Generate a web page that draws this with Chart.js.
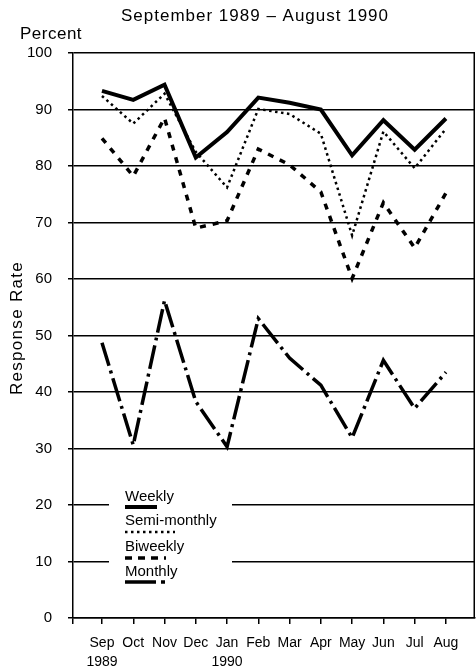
<!DOCTYPE html>
<html>
<head>
<meta charset="utf-8">
<script src="https://cdn.jsdelivr.net/npm/chart.js@4.4.1/dist/chart.umd.min.js"></script>
<style>
  html, body { margin: 0; padding: 0; background: #fff; }
  #wrap { width: 476px; height: 671px; }
</style>
</head>
<body>
<div id="wrap"><canvas id="c" width="476" height="671"></canvas></div>
<script>
const months = ['Sep','Oct','Nov','Dec','Jan','Feb','Mar','Apr','May','Jun','Jul','Aug'];
const years  = ['1989','','','','1990','','','','','','',''];
const yTicks = [0,10,20,30,40,50,60,70,80,90,100];

const weekly      = [93.3, 91.7, 94.4, 81.5, 86.0, 92.1, 91.2, 90.0, 81.9, 88.1, 82.9, 88.4];
const semiMonthly = [92.4, 87.5, 92.8, 82.5, 76.2, 90.1, 89.2, 85.7, 67.7, 86.1, 79.6, 86.6];
const biweekly    = [84.9, 78.2, 88.5, 69.0, 70.3, 83.0, 80.2, 75.4, 60.1, 73.5, 65.5, 75.2];
const monthly     = [48.7, 30.6, 56.2, 38.3, 30.3, 53.0, 46.0, 41.2, 31.9, 45.6, 37.1, 43.5];

const titleText = 'September 1989 \u2013 August 1990';
const yUnitText = 'Percent';
const yAxisText = 'Response Rate';

const FONT = "'Liberation Sans', Arial, Helvetica, sans-serif";
Chart.defaults.font.family = FONT;
Chart.defaults.color = '#000';

const toPts = arr => arr.map((v, i) => ({x: i, y: v}));

const styles = [
  {dash: [], width: 4, sampleEnd: 157},
  {dash: [2.5, 3.5], width: 2.5, sampleEnd: 175},
  {dash: [7, 6], width: 3.5, sampleEnd: 166},
  {dash: [31, 5, 4, 100], width: 3.5, sampleEnd: 168}
];
const lineDash = [[], [2.5, 3.5], [6, 7], [24, 5, 3, 5]];

const series = [
  {label: 'Weekly', data: weekly},
  {label: 'Semi-monthly', data: semiMonthly},
  {label: 'Biweekly', data: biweekly},
  {label: 'Monthly', data: monthly}
];

const decor = {
  id: 'decor',
  afterDatasetsDraw(chart) {
    const ctx = chart.ctx;
    const a = chart.chartArea;
    ctx.save();
    // right frame line
    ctx.strokeStyle = '#000';
    ctx.lineWidth = 1.5;
    ctx.beginPath();
    ctx.moveTo(a.right - 0.75, a.top);
    ctx.lineTo(a.right - 0.75, a.bottom);
    ctx.stroke();

    // legend box (white, interrupts grid lines)
    ctx.fillStyle = '#fff';
    ctx.fillRect(109, 486, 123, 104);
    const textY = [497, 521, 547, 572];
    const lineY = [507, 532, 558, 582];
    ctx.font = '15px ' + FONT;
    ctx.textBaseline = 'middle';
    ctx.textAlign = 'left';
    chart.data.datasets.forEach((ds, i) => {
      ctx.fillStyle = '#000';
      ctx.fillText(ds.label, 125, textY[i]);
      ctx.strokeStyle = '#000';
      ctx.lineWidth = styles[i].width;
      ctx.setLineDash(styles[i].dash);
      ctx.lineCap = 'butt';
      ctx.beginPath();
      ctx.moveTo(125, lineY[i]);
      ctx.lineTo(styles[i].sampleEnd, lineY[i]);
      ctx.stroke();
    });
    ctx.setLineDash([]);

    // titles
    ctx.fillStyle = '#000';
    ctx.font = '17px ' + FONT;
    ctx.letterSpacing = '1px';
    ctx.textAlign = 'center';
    ctx.textBaseline = 'middle';
    ctx.fillText(titleText, 255, 16);
    ctx.letterSpacing = '0.5px';
    ctx.textAlign = 'left';
    ctx.fillText(yUnitText, 20, 34);
    ctx.letterSpacing = '1.3px';
    ctx.translate(17, 328);
    ctx.rotate(-Math.PI / 2);
    ctx.textAlign = 'center';
    ctx.fillText(yAxisText, 0, 0);
    ctx.restore();
  }
};

new Chart(document.getElementById('c'), {
  type: 'line',
  data: {
    datasets: series.map((s, i) => ({
      label: s.label,
      data: toPts(s.data),
      borderColor: '#000',
      backgroundColor: '#000',
      borderWidth: styles[i].width,
      borderDash: lineDash[i],
      borderCapStyle: 'butt',
      borderJoinStyle: 'miter',
      pointRadius: 0,
      tension: 0,
      fill: false
    }))
  },
  options: {
    responsive: false,
    devicePixelRatio: 1,
    animation: false,
    layout: {padding: {top: 53, right: 1, left: 0, bottom: 0}},
    plugins: {legend: {display: false}, title: {display: false}, tooltip: {enabled: false}},
    scales: {
      x: {
        type: 'linear',
        min: -0.927,
        max: 11.93,
        afterBuildTicks: s => { s.ticks = [-0.927].concat(months.map((m, i) => i)).map(v => ({value: v})); },
        afterFit: s => { s.height = 53; },
        ticks: {
          autoSkip: false,
          maxRotation: 0,
          minRotation: 0,
          padding: 10,
          color: '#000',
          font: {size: 14, lineHeight: 1.35},
          callback: v => {
            if (!Number.isInteger(v)) return '';
            return years[v] ? [months[v], years[v]] : months[v];
          }
        },
        grid: {drawOnChartArea: false, drawTicks: true, tickLength: 6, color: '#000', lineWidth: 1.5},
        border: {display: true, color: '#000', width: 1.5}
      },
      y: {
        min: 0,
        max: 100,
        afterBuildTicks: s => { s.ticks = yTicks.map(v => ({value: v})); },
        afterFit: s => { s.width = 73; },
        ticks: {padding: 16, color: '#000', font: {size: 15}},
        grid: {color: '#000', lineWidth: 1.5, tickLength: 5, drawTicks: true},
        border: {display: true, color: '#000', width: 1.5}
      }
    }
  },
  plugins: [decor]
});
</script>
</body>
</html>
